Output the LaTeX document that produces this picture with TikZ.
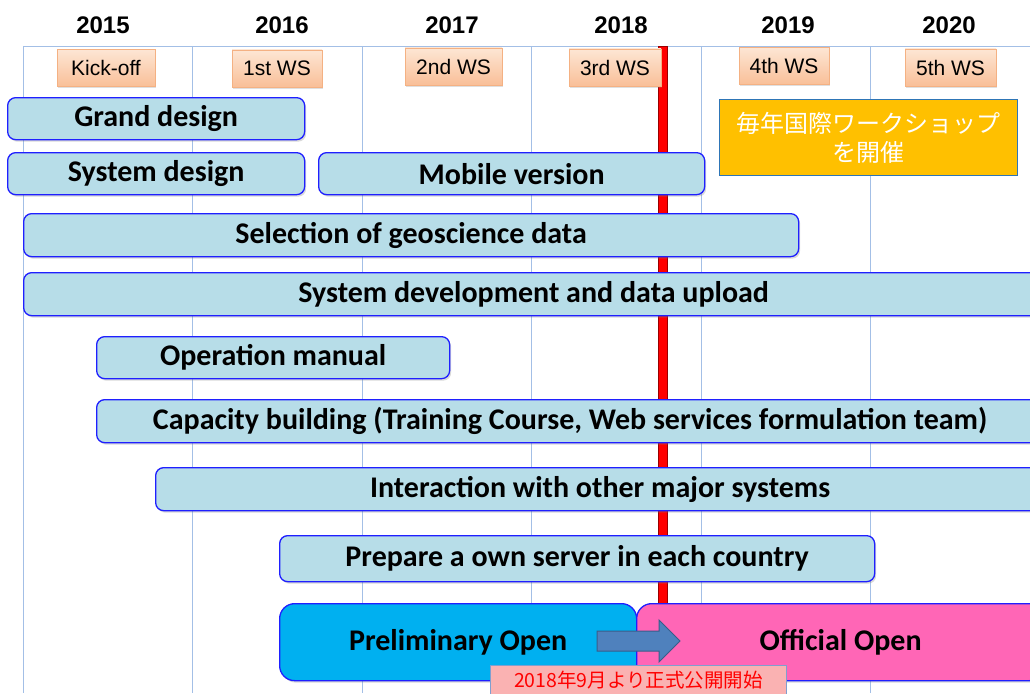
\documentclass[tikz,border=0pt]{standalone}
\usepackage{fontspec}
\setmainfont{Liberation Sans}
\newfontfamily\barfont{Carlito}
\newfontfamily\jpfont{Noto Sans CJK JP}
\usetikzlibrary{shadows}
\definecolor{barfill}{HTML}{B7DDE8}
\definecolor{barline}{HTML}{1F1FFF}
\definecolor{gridblue}{HTML}{A3BFE6}
\definecolor{wstop}{HTML}{FDE6D4}
\definecolor{wsbot}{HTML}{F9BF98}
\definecolor{wsline}{HTML}{F4B183}
\definecolor{gold}{HTML}{FFC000}
\definecolor{goldline}{HTML}{2E75B6}
\definecolor{precyan}{HTML}{00B0F0}
\definecolor{offpink}{HTML}{FF66B6}
\definecolor{arrowblue}{HTML}{4F81BD}
\definecolor{arrowline}{HTML}{385D8A}
\definecolor{noteback}{HTML}{FAB2B2}
\definecolor{noteline}{HTML}{7F9FCF}

\begin{document}
\begin{tikzpicture}[x=1pt, y=-1pt,
  gridline/.style = {draw=gridblue, line width=0.8pt},
  year/.style = {font=\fontsize{24}{28}\selectfont\bfseries},
  ws/.style = {draw=wsline, top color=wstop, bottom color=wsbot, minimum height=37pt,
    inner sep=0pt, font=\fontsize{21}{24}\selectfont,
    drop shadow={opacity=0.25, shadow xshift=1pt, shadow yshift=-1.5pt}},
  bar/.style = {draw=barline, line width=1.3pt, fill=barfill, rounded corners=8pt,
    anchor=north west, inner sep=0pt, font=\barfont\bfseries\fontsize{30}{34}\selectfont,
    drop shadow={opacity=0.3, shadow xshift=1.5pt, shadow yshift=-2pt}},
  openbox/.style = {bar, rounded corners=15pt, minimum height=77pt}]
  \useasboundingbox (0,0) rectangle (1030,693);

  % time grid
  \foreach \i in {0,...,5}
    \draw[gridline] ({23+169.5*\i},46) -- ({23+169.5*\i},693);
  \draw[gridline] (23,46) -- (1030,46);

  \foreach \yr/\xc in {2015/103, 2016/282, 2017/452, 2018/621, 2019/788, 2020/949}
    \node[year] (y\yr) at (\xc,25) {\yr};

  % now
  \filldraw[fill=red, draw=red!60!black, line width=0.4pt] (658,46) rectangle (667,606);

  % tasks
  \node[bar, minimum width=297pt, minimum height=42pt] (grand) at (7,97) {Grand design};
  \node[bar, minimum width=297pt, minimum height=42pt] (sysdes) at (7,152) {System design};
  \node[bar, minimum width=386pt, minimum height=42pt] (mobile) at (318,152) {Mobile version};
  \node[bar, minimum width=775pt, minimum height=43pt] (select) at (23,213) {Selection of geoscience data};
  \node[bar, minimum width=1020pt, minimum height=43pt] (develop) at (23,272) {System development and data upload};
  \node[bar, minimum width=353pt, minimum height=42pt] (manual) at (96,336) {Operation manual};
  \node[bar, minimum width=947pt, minimum height=43pt] (capacity) at (96,399) {Capacity building (Training Course, Web services formulation team)};
  \node[bar, minimum width=889pt, minimum height=43pt] (interact) at (155,467) {Interaction with other major systems};
  \node[bar, minimum width=595pt, minimum height=46pt] (server) at (279,535) {Prepare a own server in each country};

  % workshops
  \node[ws, minimum width=98pt] (kick) at (106,68) {Kick-off};
  \node[ws, minimum width=90pt] (ws1) at (277,68.5) {1st WS};
  \node[ws, minimum width=97pt] (ws2) at (453.5,66.5) {2nd WS};
  \node[ws, minimum width=92pt] (ws3) at (615,67.5) {3rd WS};
  \node[ws, minimum width=90pt] (ws4) at (784,66) {4th WS};
  \node[ws, minimum width=91pt] (ws5) at (950.5,67.5) {5th WS};

  \node[draw=goldline, line width=1.8pt, fill=gold, minimum width=298pt, minimum height=76pt,
    text=white, align=center, font=\jpfont\fontsize{24}{29}\selectfont] (annual) at (868.5,137.5)
    {毎年国際ワークショップ\\を開催};

  % release
  \node[openbox, fill=precyan, minimum width=357pt] (prelim) at (279,603) {Preliminary Open};
  \node[openbox, fill=offpink, minimum width=408pt] (official) at (636,603) {Official Open};
  \filldraw[fill=arrowblue, draw=arrowline, line width=1pt]
    (597,631) -- (659,631) -- (659,620) -- (680,641) -- (659,662) -- (659,651) -- (597,651) -- cycle;
  \node[draw=noteline, line width=0.8pt, fill=noteback, text=red, anchor=north west,
    minimum width=296pt, minimum height=30pt, inner sep=0pt,
    font=\jpfont\fontsize{19.5}{22}\selectfont] (note) at (490,665) {2018年9月より正式公開開始};
\end{tikzpicture}
\end{document}
